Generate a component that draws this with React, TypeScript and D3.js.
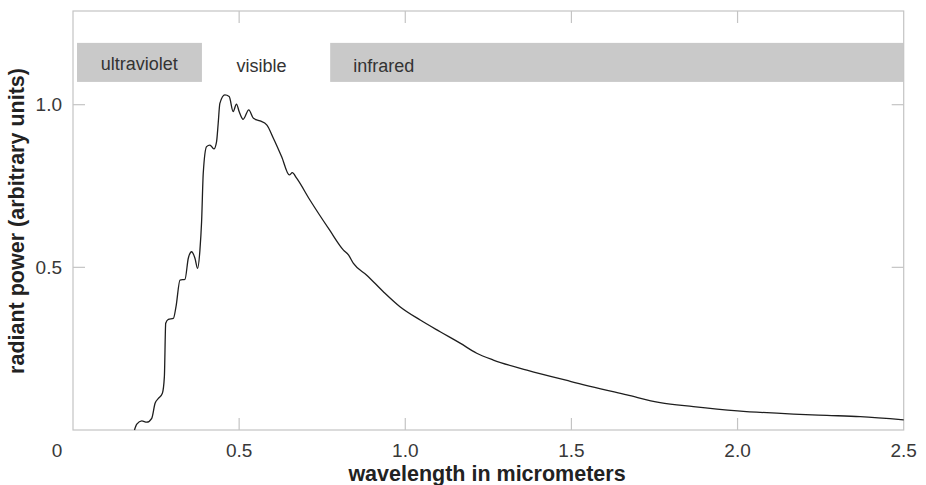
import React, { useEffect, useRef } from 'react'
import * as d3 from 'd3'

// spectrum
const wavelength = [
  0.185, 0.192, 0.207, 0.222, 0.237, 0.247, 0.257, 0.269, 0.275, 0.279,
  0.287, 0.302, 0.31, 0.322, 0.337, 0.347, 0.357, 0.367, 0.375, 0.382,
  0.387, 0.392, 0.402, 0.412, 0.424, 0.432, 0.437, 0.442, 0.457, 0.47,
  0.482, 0.492, 0.5, 0.512, 0.529, 0.543, 0.563, 0.583, 0.603, 0.628,
  0.651, 0.66, 0.673, 0.713, 0.772, 0.814, 0.829, 0.844, 0.884, 0.934,
  0.984, 1.045, 1.105, 1.165, 1.215, 1.265, 1.366, 1.499, 1.667, 1.767,
  1.867, 2.0, 2.168, 2.269, 2.369, 2.5,
]
const power = [
  0.0, 0.018, 0.028, 0.024, 0.036, 0.082, 0.097, 0.113, 0.164, 0.328,
  0.34, 0.343, 0.379, 0.461, 0.463, 0.528, 0.548, 0.528, 0.497, 0.553,
  0.64, 0.789, 0.871, 0.876, 0.864, 0.886, 0.943, 1.004, 1.03, 1.025,
  0.979, 1.002, 0.979, 0.955, 0.984, 0.958, 0.95, 0.938, 0.897, 0.84,
  0.784, 0.791, 0.774, 0.707, 0.615, 0.553, 0.538, 0.512, 0.476, 0.425,
  0.379, 0.338, 0.302, 0.267, 0.236, 0.215, 0.184, 0.149, 0.108, 0.084,
  0.072, 0.059, 0.049, 0.045, 0.041, 0.031,
]

const bandNames = ['ultraviolet', 'visible', 'infrared']
const bandStart = [0.012, 0.39, 0.774]
const bandEnd = [0.388, 0.774, 2.5]
const bandShaded = [true, false, true]

const xTicks = [0, 0.5, 1.0, 1.5, 2.0, 2.5]
const xTickLabels = ['0', '0.5', '1.0', '1.5', '2.0', '2.5']
const yTicks = [0.5, 1.0]
const yTickLabels = ['0.5', '1.0']

const xTitle = 'wavelength in micrometers'
const yTitle = 'radiant power (arbitrary units)'

export default function App() {
  const ref = useRef<SVGSVGElement>(null)

  useEffect(() => {
    const W = 926, H = 485
    const left = 73, right = 903.7, top = 11, bottom = 430
    const svg = d3.select(ref.current)
    svg.selectAll('*').remove()
    svg.attr('width', W).attr('height', H)

    const x = d3.scaleLinear().domain([0, 2.5]).range([left, right])
    const y = d3.scaleLinear().domain([0, 1.288]).range([bottom, top])
    const font = 'Liberation Sans, Arial, sans-serif'
    const grey = '#c4c4c4'
    const tick = 12

    // bands
    const bandTop = 1.19, bandBottom = 1.07
    const labelPad = [23.7, 34, 23]
    bandNames.forEach((name, i) => {
      if (bandShaded[i]) {
        svg.append('rect')
          .attr('x', x(bandStart[i]))
          .attr('y', y(bandTop))
          .attr('width', x(bandEnd[i]) - x(bandStart[i]))
          .attr('height', y(bandBottom) - y(bandTop))
          .attr('fill', '#c9c9c9')
      }
      svg.append('text')
        .attr('x', x(bandStart[i]) + labelPad[i])
        .attr('y', i === 0 ? 70 : 71.5)
        .attr('font-family', font)
        .attr('font-size', 18)
        .attr('fill', '#333')
        .text(name)
    })

    // frame
    svg.append('rect')
      .attr('x', left).attr('y', top)
      .attr('width', right - left).attr('height', bottom - top)
      .attr('fill', 'none').attr('stroke', grey).attr('stroke-width', 1.2)

    // ticks
    xTicks.slice(1, -1).forEach(t => {
      svg.append('line').attr('x1', x(t)).attr('x2', x(t))
        .attr('y1', bottom).attr('y2', bottom - tick).attr('stroke', grey).attr('stroke-width', 1.2)
      svg.append('line').attr('x1', x(t)).attr('x2', x(t))
        .attr('y1', top).attr('y2', top + tick).attr('stroke', grey).attr('stroke-width', 1.2)
    })
    yTicks.forEach(t => {
      svg.append('line').attr('x1', left).attr('x2', left + tick)
        .attr('y1', y(t)).attr('y2', y(t)).attr('stroke', grey).attr('stroke-width', 1.2)
      svg.append('line').attr('x1', right).attr('x2', right - tick)
        .attr('y1', y(t)).attr('y2', y(t)).attr('stroke', grey).attr('stroke-width', 1.2)
    })

    // tick labels
    xTicks.forEach((t, i) => {
      svg.append('text')
        .attr('x', i === 0 ? x(t) - 16 : x(t))
        .attr('y', 456.5)
        .attr('text-anchor', 'middle')
        .attr('font-family', font)
        .attr('font-size', 19)
        .attr('fill', '#383838')
        .text(xTickLabels[i])
    })
    yTicks.forEach((t, i) => {
      svg.append('text')
        .attr('x', 62)
        .attr('y', y(t))
        .attr('dy', '0.35em')
        .attr('text-anchor', 'end')
        .attr('font-family', font)
        .attr('font-size', 19)
        .attr('fill', '#383838')
        .text(yTickLabels[i])
    })

    // titles
    svg.append('text')
      .attr('x', 487).attr('y', 481)
      .attr('text-anchor', 'middle')
      .attr('font-family', font).attr('font-weight', 'bold').attr('font-size', 21.5)
      .attr('fill', '#222')
      .text(xTitle)
    svg.append('text')
      .attr('transform', 'translate(24,221) rotate(-90)')
      .attr('text-anchor', 'middle')
      .attr('font-family', font).attr('font-weight', 'bold').attr('font-size', 21.5)
      .attr('fill', '#222')
      .text(yTitle)

    // spectrum
    const pts = wavelength.map((w, i) => [w, power[i]] as [number, number])
    const line = d3.line<[number, number]>()
      .x(d => x(d[0]))
      .y(d => y(d[1]))
      .curve(d3.curveMonotoneX)
    svg.append('path')
      .datum(pts)
      .attr('d', line)
      .attr('fill', 'none')
      .attr('stroke', '#1e1e1e')
      .attr('stroke-width', 1.3)
  }, [])

  return <svg ref={ref} style={{ position: 'absolute', left: 0, top: 0, background: '#fff' }} />
}
